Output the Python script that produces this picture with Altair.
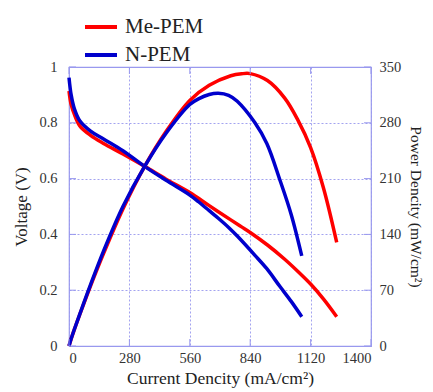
import altair as alt
import pandas as pd

# Current density (mA/cm^2) and voltage (V) for each membrane
me_I = [0, 10, 25, 50, 100, 160, 250, 352, 450, 560, 650, 750, 800, 840, 920, 1000, 1060, 1120, 1180, 1241]
me_V = [0.914, 0.865, 0.83, 0.789, 0.755, 0.726, 0.688, 0.643, 0.598, 0.55, 0.503, 0.452, 0.427, 0.407,
        0.362, 0.311, 0.268, 0.222, 0.168, 0.105]
n_I = [0, 10, 25, 50, 100, 160, 250, 352, 450, 560, 600, 650, 692, 740, 780, 862, 917, 978, 1030, 1079]
n_V = [0.962, 0.90, 0.85, 0.807, 0.77, 0.742, 0.70, 0.643, 0.594, 0.541, 0.517, 0.485, 0.458, 0.425,
       0.394, 0.325, 0.277, 0.213, 0.16, 0.105]

# Power density (mW/cm^2) read at the same current densities
me_P = [0, 8.7, 20.8, 39.5, 75.5, 116, 172, 226, 269, 308, 327, 339, 341.5, 341.7, 333, 311, 284, 249,
        198, 130]
n_P = [0, 9, 21, 40, 77, 119, 175, 226, 267, 303, 310, 315.5, 317, 314.5, 307, 280, 254, 208, 165, 113]

series = ["Me-PEM", "N-PEM"]
colors = ["#ff0000", "#0000cc"]
x_ticks = [0, 280, 560, 840, 1120, 1400]
v_ticks = [0, 0.2, 0.4, 0.6, 0.8, 1]
p_ticks = [0, 70, 140, 210, 280, 350]

volt = pd.DataFrame({
    "I": me_I + n_I,
    "V": me_V + n_V,
    "series": [series[0]] * len(me_I) + [series[1]] * len(n_I),
    "order": list(range(len(me_I))) + list(range(len(n_I))),
})
power = pd.DataFrame({
    "I": me_I + n_I,
    "P": me_P + n_P,
    "series": [series[0]] * len(me_I) + [series[1]] * len(n_I),
    "order": list(range(len(me_I))) + list(range(len(n_I))),
})

W, H = 302, 279
FONT = "'Liberation Serif', 'Times New Roman', serif"
FRAME = "#9999ee"

xscale = alt.Scale(domain=[0, 1400], nice=False)
xaxis = alt.Axis(values=x_ticks, title="Current Dencity (mA/cm²)", grid=True, gridDash=[2, 2],
                 gridColor=FRAME, gridOpacity=0.9, ticks=False, domain=False, labelPadding=5,
                 titlePadding=5, format="d", titleFontSize=17.5)
color = alt.Color("series:N", scale=alt.Scale(domain=series, range=colors),
                  legend=alt.Legend(title=None, orient="none", legendX=14, legendY=-58,
                                    symbolType="stroke", symbolSize=1024, symbolStrokeWidth=4,
                                    labelFontSize=21, labelFont=FONT, labelColor="#222",
                                    labelOffset=6, rowPadding=-11, padding=0))

v_line = alt.Chart(volt).mark_line(strokeWidth=3.5, interpolate="catmull-rom").encode(
    x=alt.X("I:Q", scale=xscale, axis=xaxis),
    y=alt.Y("V:Q", scale=alt.Scale(domain=[0, 1], nice=False),
            axis=alt.Axis(values=v_ticks, title="Voltage (V)", grid=True, gridDash=[2, 2],
                          gridColor=FRAME, gridOpacity=0.9, ticks=False, domain=False,
                          labelPadding=12, titlePadding=8, format="~g", titleFontSize=17)),
    color=color,
    order="order:Q",
)

p_line = alt.Chart(power).mark_line(strokeWidth=3.5, interpolate="catmull-rom").encode(
    x=alt.X("I:Q", scale=xscale),
    y=alt.Y("P:Q", scale=alt.Scale(domain=[0, 350], nice=False),
            axis=alt.Axis(values=p_ticks, orient="right", title="Power Dencity (mW/cm²)",
                          grid=False, ticks=False, domain=False, labelPadding=8, titlePadding=7,
                          titleFontSize=15.5)),
    color=alt.Color("series:N", scale=alt.Scale(domain=series, range=colors), legend=None),
    order="order:Q",
)

xt = pd.DataFrame({"t": x_ticks})
vt = pd.DataFrame({"t": v_ticks})
tick_bottom = alt.Chart(xt).mark_rule(color=FRAME, strokeWidth=1).encode(
    x=alt.X("t:Q", scale=xscale), y=alt.value(H), y2=alt.value(H - 7))
tick_top = alt.Chart(xt).mark_rule(color=FRAME, strokeWidth=1).encode(
    x=alt.X("t:Q", scale=xscale), y=alt.value(0), y2=alt.value(7))
tick_left = alt.Chart(vt).mark_rule(color=FRAME, strokeWidth=1).encode(
    y=alt.Y("t:Q", scale=alt.Scale(domain=[0, 1], nice=False), axis=None), x=alt.value(0), x2=alt.value(7))
tick_right = alt.Chart(vt).mark_rule(color=FRAME, strokeWidth=1).encode(
    y=alt.Y("t:Q", scale=alt.Scale(domain=[0, 1], nice=False), axis=None), x=alt.value(W), x2=alt.value(W - 7))

chart = alt.layer(v_line, p_line, tick_bottom, tick_top, tick_left, tick_right).resolve_scale(
    y="independent", color="independent"
).properties(
    width=W, height=H,
    autosize=alt.AutoSizeParams(type="none"),
    padding={"left": 61, "top": 59, "right": 54, "bottom": 46},
).configure_view(
    stroke=FRAME, strokeWidth=1.2
).configure_axis(
    labelFont=FONT, labelFontSize=14.5, labelColor="#333",
    titleFont=FONT, titleFontSize=16, titleFontWeight="normal", titleColor="#222",
).configure_legend(
    labelFont=FONT, labelFontSize=21, labelColor="#222"
)

chart.save("out.html", embed_options={"renderer": "svg", "actions": False})
